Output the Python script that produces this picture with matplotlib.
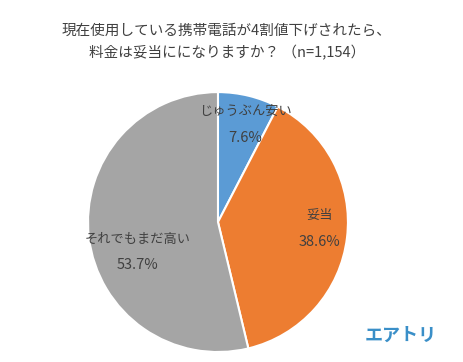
import matplotlib.pyplot as plt

plt.rcParams['font.family'] = ['Noto Sans CJK JP', 'DejaVu Sans']

labels = ["じゅうぶん安い", "妥当", "それでもまだ高い"]
values = [7.6, 38.6, 53.7]
colors = ["#5b9bd5", "#ed7d31", "#a5a5a5"]
# label positions in pie units (center 0,0, radius 1)
label_pos = [(0.21, 0.75), (0.78, -0.05), (-0.62, -0.23)]

fig = plt.figure(figsize=(4.63, 3.62), dpi=100)
fig.patch.set_facecolor("white")
ax = fig.add_axes([0.190, 0.0276, 0.5616, 0.718])

wedges, _ = ax.pie(values, colors=colors, startangle=90, counterclock=False,
                   radius=1, wedgeprops=dict(edgecolor="white", linewidth=1.5))
ax.set_xlim(-1, 1)
ax.set_ylim(-1, 1)
ax.set_aspect("equal")

for lab, val, (x, y) in zip(labels, values, label_pos):
    ax.text(x, y + 0.1, lab, ha="center", va="center", fontsize=9.5, color="#404040")
    ax.text(x, y - 0.1, f"{val:.1f}%", ha="center", va="center", fontsize=10.5, color="#404040")

fig.text(0.49, 0.915, "現在使用している携帯電話が4割値下げされたら、", ha="center", va="center",
         fontsize=10.5, color="#404040")
fig.text(0.49, 0.855, "料金は妥当にになりますか？ （n=1,154）", ha="center", va="center",
         fontsize=10.5, color="#404040")

fig.text(0.865, 0.075, "エアトリ", ha="center", va="center", fontsize=13,
         fontweight="bold", color="#3a8fc8")

fig.savefig("out.png", dpi=100)
